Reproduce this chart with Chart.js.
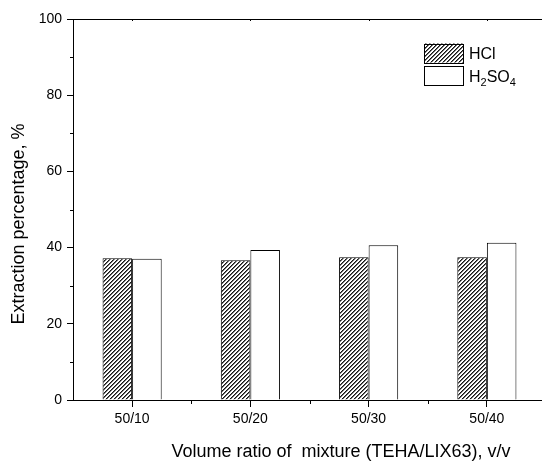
<!DOCTYPE html>
<html>
<head>
<meta charset="utf-8">
<script src="https://cdn.jsdelivr.net/npm/chart.js@4/dist/chart.umd.min.js"></script>
<style>
html,body{margin:0;padding:0;background:#fff;overflow:hidden;width:542px;height:466px;}
canvas{display:block;}
</style>
</head>
<body>
<canvas id="c" width="560" height="466" style="width:560px;height:466px"></canvas>
<script>
const categories = ['50/10', '50/20', '50/30', '50/40'];
const hclValues = [37.2, 36.7, 37.5, 37.5];
const h2so4Values = [37.1, 39.4, 40.6, 41.3];
const yTicks = [0, 20, 40, 60, 80, 100];
const yMinorTicks = [10, 30, 50, 70, 90];
const xTitle = 'Volume ratio of  mixture (TEHA/LIX63), v/v';
const yTitle = 'Extraction percentage, %';

const FONT = '"Liberation Sans", Arial, Helvetica, sans-serif';

function makeHatch() {
  const s = 4;
  const t = document.createElement('canvas');
  t.width = s; t.height = s;
  const g = t.getContext('2d');
  const img = g.createImageData(s, s);
  for (let yy = 0; yy < s; yy++) {
    for (let xx = 0; xx < s; xx++) {
      const k = (xx + yy) % s;
      const v = k === 0 ? 20 : (k === 1 ? 110 : 255);
      const i = (yy * s + xx) * 4;
      img.data[i] = v; img.data[i + 1] = v; img.data[i + 2] = v; img.data[i + 3] = 255;
    }
  }
  g.putImageData(img, 0, 0);
  return document.getElementById('c').getContext('2d').createPattern(t, 'repeat');
}
const hatch = makeHatch();

const decor = {
  id: 'decor',
  afterDraw(chart) {
    const ctx = chart.ctx;
    const x = chart.scales.x, y = chart.scales.y;
    const a = chart.chartArea;
    ctx.save();
    ctx.strokeStyle = '#000';
    ctx.lineWidth = 1;
    // top frame line
    ctx.beginPath();
    ctx.moveTo(a.left, Math.round(a.top) + 0.5);
    ctx.lineTo(a.right, Math.round(a.top) + 0.5);
    ctx.stroke();
    // y minor ticks
    ctx.beginPath();
    yMinorTicks.forEach(v => {
      const py = Math.round(y.getPixelForValue(v)) + 0.5;
      ctx.moveTo(a.left - 3, py); ctx.lineTo(a.left, py);
    });
    // x minor ticks between categories + top inward ticks
    for (let i = 0; i < categories.length; i++) {
      const p0 = x.getPixelForValue(i);
      const px = Math.round(p0) + 0.5;
      ctx.moveTo(px, a.top); ctx.lineTo(px, a.top + 2);
      if (i < categories.length - 1) {
        const pm = Math.round((p0 + x.getPixelForValue(i + 1)) / 2) + 0.5;
        ctx.moveTo(pm, a.bottom); ctx.lineTo(pm, a.bottom + 4);
      }
    }
    ctx.stroke();

    ctx.fillStyle = '#000';
    // x title
    ctx.font = '18px ' + FONT;
    ctx.textAlign = 'center';
    ctx.textBaseline = 'alphabetic';
    ctx.fillText(xTitle, 341, 457);
    // y title
    ctx.save();
    ctx.translate(24, 224);
    ctx.rotate(-Math.PI / 2);
    ctx.font = '18px ' + FONT;
    ctx.fillText(yTitle, 0, 0);
    ctx.restore();

    // legend
    const lx = 424, bw = 39, bh = 19;
    const rows = [{y: 43.5, fill: hatch}, {y: 66, fill: '#fff'}];
    rows.forEach(r => {
      ctx.fillStyle = r.fill;
      ctx.fillRect(lx, r.y, bw, bh);
      ctx.strokeStyle = '#000';
      ctx.strokeRect(lx + 0.5, Math.round(r.y) + 0.5, bw, bh);
    });
    ctx.fillStyle = '#000';
    ctx.textAlign = 'left';
    ctx.textBaseline = 'alphabetic';
    ctx.font = '16px ' + FONT;
    ctx.fillText('HCl', 469, 59);
    let tx = 469;
    const by = 82;
    const parts = [['H', 0], ['2', 1], ['SO', 0], ['4', 1]];
    parts.forEach(([t, sub]) => {
      ctx.font = (sub ? '11px ' : '16px ') + FONT;
      ctx.fillText(t, tx, sub ? by + 4 : by);
      tx += ctx.measureText(t).width;
    });
    ctx.restore();
  }
};

new Chart(document.getElementById('c'), {
  type: 'bar',
  data: {
    labels: categories,
    datasets: [
      {label: 'HCl', data: hclValues, backgroundColor: hatch, borderColor: '#000', borderWidth: 1, borderSkipped: 'bottom'},
      {label: 'H2SO4', data: h2so4Values, backgroundColor: '#fff', borderColor: '#000', borderWidth: 1, borderSkipped: 'bottom'}
    ]
  },
  options: {
    responsive: false,
    animation: false,
    devicePixelRatio: 1,
    layout: {padding: {left: 0, right: 14, top: 19, bottom: 0}},
    datasets: {bar: {categoryPercentage: 0.5, barPercentage: 1}},
    plugins: {legend: {display: false}, tooltip: {enabled: false}, title: {display: false}},
    scales: {
      x: {
        grid: {display: true, offset: false, drawOnChartArea: false, drawTicks: true, tickLength: 7, color: '#000', tickColor: '#000'},
        border: {display: true, color: '#000', width: 1},
        ticks: {color: '#000', font: {family: FONT, size: 14}, padding: 4, maxRotation: 0},
        afterFit(s) { s.height = 66; }
      },
      y: {
        min: 0, max: 100,
        afterBuildTicks(s) { s.ticks = yTicks.map(v => ({value: v})); },
        grid: {display: true, drawOnChartArea: false, drawTicks: true, tickLength: 6, color: '#000', tickColor: '#000'},
        border: {display: true, color: '#000', width: 1},
        ticks: {color: '#000', font: {family: FONT, size: 14}, padding: 5},
        title: {display: false},
        afterFit(s) { s.width = 73; }
      }
    }
  },
  plugins: [decor]
});
</script>
</body>
</html>
